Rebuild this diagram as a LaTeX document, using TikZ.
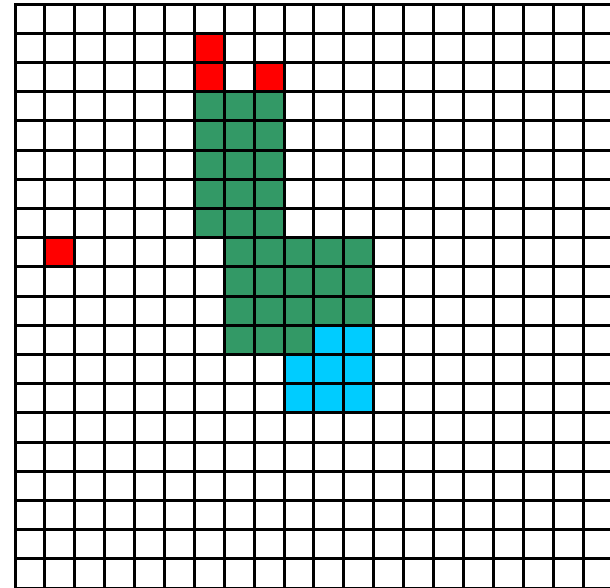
\documentclass[tikz,border=0pt]{standalone}
\definecolor{vermelho}{RGB}{255,0,0}
\definecolor{verde}{RGB}{51,153,102}
\definecolor{ciano}{RGB}{0,204,255}
\tikzset{linha/.style={line width=3bp,line cap=rect}}
\begin{document}
\begin{tikzpicture}[x=29.9bp,y=-29.2bp]
    % Moldura da figura
    \useasboundingbox (-0.5017,-0.137) rectangle (19.9,19.966);
    \clip (-0.5017,-0.137) rectangle (19.9,19.966);
    % Celulas vermelhas
    \foreach \i/\j in {6/1,6/2,8/2,1/8}
        \fill[vermelho] (\i,\j) rectangle ++(1,1);
    % Celulas verdes
    \foreach \i in {6,7,8}
        \foreach \j in {3,...,7}
            \fill[verde] (\i,\j) rectangle ++(1,1);
    \foreach \i in {7,...,11}
        \foreach \j in {8,9,10}
            \fill[verde] (\i,\j) rectangle ++(1,1);
    \foreach \i in {7,8,9}
        \fill[verde] (\i,11) rectangle ++(1,1);
    % Celulas azuis
    \foreach \i/\j in {10/11,11/11,9/12,10/12,11/12,9/13,10/13,11/13}
        \fill[ciano] (\i,\j) rectangle ++(1,1);
    % Grade
    \foreach \k in {0,...,20} {
        \draw[linha] (\k,0) -- (\k,20);
        \draw[linha] (0,\k) -- (20,\k);
    }
\end{tikzpicture}
\end{document}
